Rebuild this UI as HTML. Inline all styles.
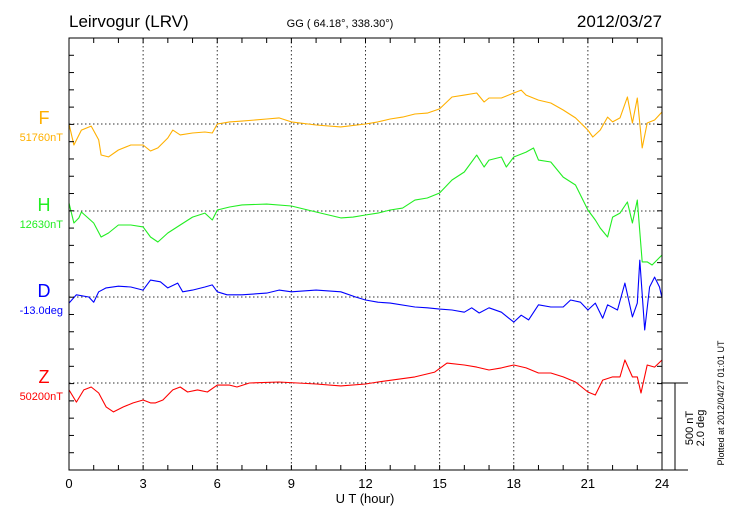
<!DOCTYPE html>
<html><head><meta charset="utf-8"><style>
html,body{margin:0;padding:0;background:#fff;}
svg{display:block;font-family:"Liberation Sans",sans-serif;}
</style></head><body>
<svg id="chart" width="730" height="520" viewBox="0 0 730 520">
<text x="69" y="27" font-size="17">Leirvogur (LRV)</text>
<text x="340" y="27" font-size="11" text-anchor="middle">GG ( 64.18°, 338.30°)</text>
<text x="662" y="27" font-size="17" text-anchor="end">2012/03/27</text>
<g id="grid"></g>
<g id="series"></g>
<g id="axes"></g>
<text x="365" y="503" font-size="13" text-anchor="middle">U T (hour)</text>
<text transform="translate(693,428) rotate(-90)" font-size="11" text-anchor="middle">500 nT</text>
<text transform="translate(704,428) rotate(-90)" font-size="11" text-anchor="middle">2.0 deg</text>
<text transform="translate(724,403) rotate(-90)" font-size="9" text-anchor="middle">Plotted at 2012/04/27 01:01 UT</text>
</svg>
<script>
const xTicks = [0,3,6,9,12,15,18,21,24];
const fT = [0,0.2,0.5,0.9,1.2,1.3,1.6,2,2.5,3,3.3,3.6,4,4.2,4.5,5,5.5,5.8,6,6.5,7,8,8.5,9,10,11,12,12.5,13,13.5,14,14.5,15,15.5,16,16.5,16.8,17,17.5,18,18.3,18.5,19,19.5,20,20.5,21,21.2,21.5,21.8,22,22.3,22.6,22.8,23,23.2,23.4,23.7,24];
const fV = [0,-121,-35,-12,-92,-179,-190,-150,-121,-121,-156,-138,-81,-35,-63,-52,-46,-52,0,12,17,29,35,12,-6,-17,0,12,29,40,58,63,87,156,167,179,127,150,150,179,196,167,138,121,81,35,-35,-75,-35,40,12,35,156,6,150,-138,6,23,69];
const hT = [0,0.2,0.4,0.5,1,1.3,1.6,2,2.5,3,3.3,3.6,4,4.5,5,5.5,5.8,6,6.5,7,8,9,10,11,11.5,12,12.5,13,13.5,14,14.5,15,15.5,16,16.5,16.8,17,17.5,17.7,18,18.5,18.8,19,19.5,20,20.5,21,21.3,21.5,21.8,22,22.3,22.6,22.8,23,23.2,23.4,23.6,24];
const hV = [46,-69,-40,-6,-69,-150,-127,-81,-81,-92,-150,-179,-127,-81,-35,-12,-52,6,23,35,40,29,-6,-40,-35,-23,-12,6,17,63,75,104,179,225,323,254,294,312,254,312,340,364,294,283,196,150,6,-52,-98,-150,-35,-12,52,-69,63,-294,-294,-312,-254];
const dT = [0,0.3,0.8,1,1.2,1.5,2,2.5,3,3.3,3.7,4,4.4,4.6,5,5.5,5.8,6,6.4,7,8,8.5,9,10,11,11.6,12,12.5,13,14,14.5,15,15.5,16,16.3,16.6,17,17.5,17.8,18,18.3,18.6,19,19.5,20,20.3,20.7,21,21.3,21.6,21.8,22.2,22.5,22.8,23,23.1,23.3,23.5,23.7,23.9,24];
const dV = [-0.14,0.05,0,-0.12,0.12,0.21,0.25,0.23,0.16,0.39,0.35,0.21,0.32,0.12,0.16,0.23,0.28,0.12,0.05,0.05,0.09,0.16,0.12,0.16,0.12,0,-0.07,-0.12,-0.14,-0.23,-0.25,-0.28,-0.30,-0.35,-0.25,-0.37,-0.25,-0.35,-0.49,-0.58,-0.42,-0.53,-0.18,-0.23,-0.23,-0.07,-0.12,-0.30,-0.14,-0.49,-0.18,-0.30,0.32,-0.46,-0.14,0.85,-0.76,0.23,0.46,0.23,-0.02];
const zT = [0,0.3,0.6,0.9,1.2,1.5,1.8,2.2,2.6,3,3.3,3.5,3.8,4.2,4.5,4.8,5.2,5.6,6,6.5,6.8,7.3,8.5,10,11,12,12.5,14,14.8,15.3,16,16.5,17,17.5,18,18.5,19,19.5,20,20.5,21,21.3,21.6,22,22.3,22.5,22.8,23,23.15,23.4,23.7,24];
const zV = [-40,-110,-40,-23,-58,-138,-167,-138,-115,-98,-115,-115,-98,-40,-23,-52,-40,-52,-12,-12,-23,0,6,-6,-17,-6,6,35,63,115,104,92,75,87,104,87,58,58,35,6,-52,-69,17,35,35,133,35,35,-58,104,92,133];

const NS='http://www.w3.org/2000/svg';
const X0=69, X1=662, Y0=38, Y1=470;
const pxPerNT = 86.6/500, pxPerDeg = 86.6/2;
const xs = h => X0 + h*(X1-X0)/24;
function mk(tag, attrs, parent){const e=document.createElementNS(NS,tag);for(const k in attrs)e.setAttribute(k,attrs[k]);parent.appendChild(e);return e;}
const grid=document.getElementById('grid'), axes=document.getElementById('axes'), ser=document.getElementById('series');

const bands=[
 {name:'f',label:'F',val:'51760nT',color:'#ffb000',base:124,t:fT,v:fV,k:pxPerNT},
 {name:'h',label:'H',val:'12630nT',color:'#22ee22',base:211,t:hT,v:hV,k:pxPerNT},
 {name:'d',label:'D',val:'-13.0deg',color:'#0000ff',base:297,t:dT,v:dV,k:pxPerDeg},
 {name:'z',label:'Z',val:'50200nT',color:'#ff0000',base:383,t:zT,v:zV,k:pxPerNT}
];
for(let i=1;i<xTicks.length-1;i++){
  const g=mk('line',{x1:xs(xTicks[i]),x2:xs(xTicks[i]),y1:Y0,y2:Y1,stroke:'#333','stroke-width':1,'stroke-dasharray':'1.5,2.5'},grid);
  
  
}
bands.forEach(b=>{
  const g=mk('line',{x1:X0,x2:X1,y1:b.base,y2:b.base,stroke:'#333','stroke-width':1,'stroke-dasharray':'1.5,2.5'},grid);
  
  
  const pts=b.t.map((t,i)=>xs(t).toFixed(1)+','+(b.base-b.v[i]*b.k).toFixed(1)).join(' ');
  const p=mk('polyline',{points:pts,fill:'none',stroke:b.color,'stroke-width':1.1,'stroke-linejoin':'round'},ser);
  
  
  const l=mk('text',{x:44,y:b.base,'font-size':18,fill:b.color,'text-anchor':'middle'},axes);
  l.textContent=b.label;
  
  
  const v=mk('text',{x:63,y:b.base+17,'font-size':11,fill:b.color,'text-anchor':'end'},axes);
  v.textContent=b.val;
  
  
});
const fr=mk('rect',{x:X0,y:Y0,width:X1-X0,height:Y1-Y0,fill:'none',stroke:'#000','stroke-width':1},axes);


for(let h=0;h<=24;h++){
  const x=xs(h);
  mk('line',{x1:x,x2:x,y1:Y0,y2:Y0+5,stroke:'#000'},axes);
  mk('line',{x1:x,x2:x,y1:Y1,y2:Y1-5,stroke:'#000'},axes);
}
xTicks.forEach(h=>{
  const t=mk('text',{x:xs(h),y:488,'font-size':13,'text-anchor':'middle'},axes);
  t.textContent=h;
  
  
});
const step=(Y1-Y0)/25;
for(let i=0;i<=25;i++){
  const y=Y0+i*step;
  mk('line',{x1:X0,x2:X0+5,y1:y,y2:y,stroke:'#000'},axes);
  mk('line',{x1:X1,x2:X1-5,y1:y,y2:y,stroke:'#000'},axes);
}
const s1=mk('line',{x1:X1,x2:688,y1:383,y2:383,stroke:'#000'},axes);


const s2=mk('line',{x1:675,x2:675,y1:383,y2:Y1,stroke:'#000'},axes);


const s3=mk('line',{x1:X1,x2:688,y1:Y1,y2:Y1,stroke:'#000'},axes);


</script>
</body></html>
